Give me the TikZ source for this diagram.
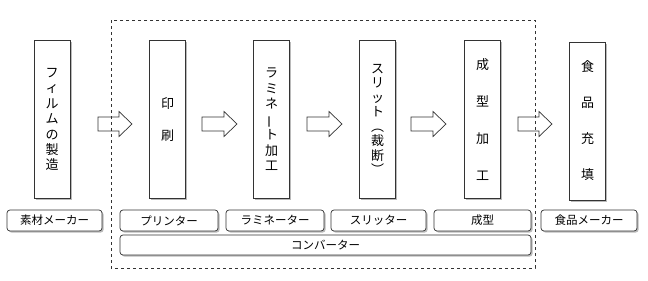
\documentclass[tikz,border=0pt]{standalone}
\usepackage{fontspec}
\setmainfont{Noto Sans CJK JP}
\usetikzlibrary{shadows}
\definecolor{linec}{HTML}{333333}
\tikzset{
  shd/.style={drop shadow={shadow xshift=1.6pt,shadow yshift=-1.6pt,opacity=0.45,fill=black!60}},
  stepbox/.style={draw=linec,line width=0.7pt,fill=white,shd,minimum width=36pt,minimum height=158pt,inner sep=0pt,align=center,font=\fontsize{13}{15.4}\selectfont},
  tagbox/.style={draw=linec,line width=0.7pt,fill=white,shd,rounded corners=3pt,minimum height=21pt,inner sep=0pt,font=\fontsize{11.5}{13}\selectfont},
  barrow/.style={draw=linec,line width=0.7pt,fill=white},
  frame/.style={draw=linec,dashed,line width=0.7pt}
}
\newcommand\rot[1]{\rotatebox[origin=c]{90}{#1}}
\newcommand\blkarrow[2]{\draw[barrow] ([yshift=7pt]#1) -- ([xshift=-13pt,yshift=7pt]#2) -- ([xshift=-13pt,yshift=12.5pt]#2) -- (#2) -- ([xshift=-13pt,yshift=-12.5pt]#2) -- ([xshift=-13pt,yshift=-7pt]#2) -- ([yshift=-7pt]#1) -- cycle;}
\begin{document}
\begin{tikzpicture}[x=1pt,y=-1pt]
\useasboundingbox[fill=white] (0,0) rectangle (648,281);

\node[stepbox] (s1) at (52,119.5) {フ\\ィ\\ル\\ム\\の\\製\\造};
\node[stepbox,font=\fontsize{13}{32}\selectfont] (s2) at (167.5,119.5) {印\\刷};
\node[stepbox,font=\fontsize{13}{15.5}\selectfont] (s3) at (271.5,119.5) {ラ\\ミ\\ネ\\\rot{ー}\\ト\\加\\工};
\node[stepbox,font=\fontsize{13}{14.5}\selectfont] (s4) at (377.5,119.5) {ス\\リ\\ッ\\ト\\︵\\裁\\断\\︶};
\node[stepbox,font=\fontsize{13}{37}\selectfont] (s5) at (482.5,119.5) {成\\型\\加\\工};
\node[stepbox,font=\fontsize{13}{36}\selectfont] (s6) at (587.5,121) {食\\品\\充\\填};

\coordinate (a1s) at (98,124);  \coordinate (a1e) at (132,124);
\coordinate (a2s) at (202,124); \coordinate (a2e) at (237,124);
\coordinate (a3s) at (307,124); \coordinate (a3e) at (342,124);
\coordinate (a4s) at (411,124); \coordinate (a4e) at (446,124);
\coordinate (a5s) at (518,124); \coordinate (a5e) at (552,124);
\blkarrow{a1s}{a1e}
\blkarrow{a2s}{a2e}
\blkarrow{a3s}{a3e}
\blkarrow{a4s}{a4e}
\blkarrow{a5s}{a5e}

\node[tagbox,minimum width=95pt] (t1) at (54.5,220.5) {素材メーカー};
\node[tagbox,minimum width=98pt] (t2) at (169,220.5) {プリンター};
\node[tagbox,minimum width=98pt] (t3) at (275,220.5) {ラミネーター};
\node[tagbox,minimum width=95pt] (t4) at (378.5,220.5) {スリッター};
\node[tagbox,minimum width=97pt] (t5) at (482.5,220.5) {成型};
\node[tagbox,minimum width=96pt] (t6) at (589,220.5) {食品メーカー};
\node[tagbox,minimum width=411pt,minimum height=20pt] (t7) at (325.5,245) {コンバーター};

\draw[frame] (111,20) rectangle (535,268);
\end{tikzpicture}
\end{document}
